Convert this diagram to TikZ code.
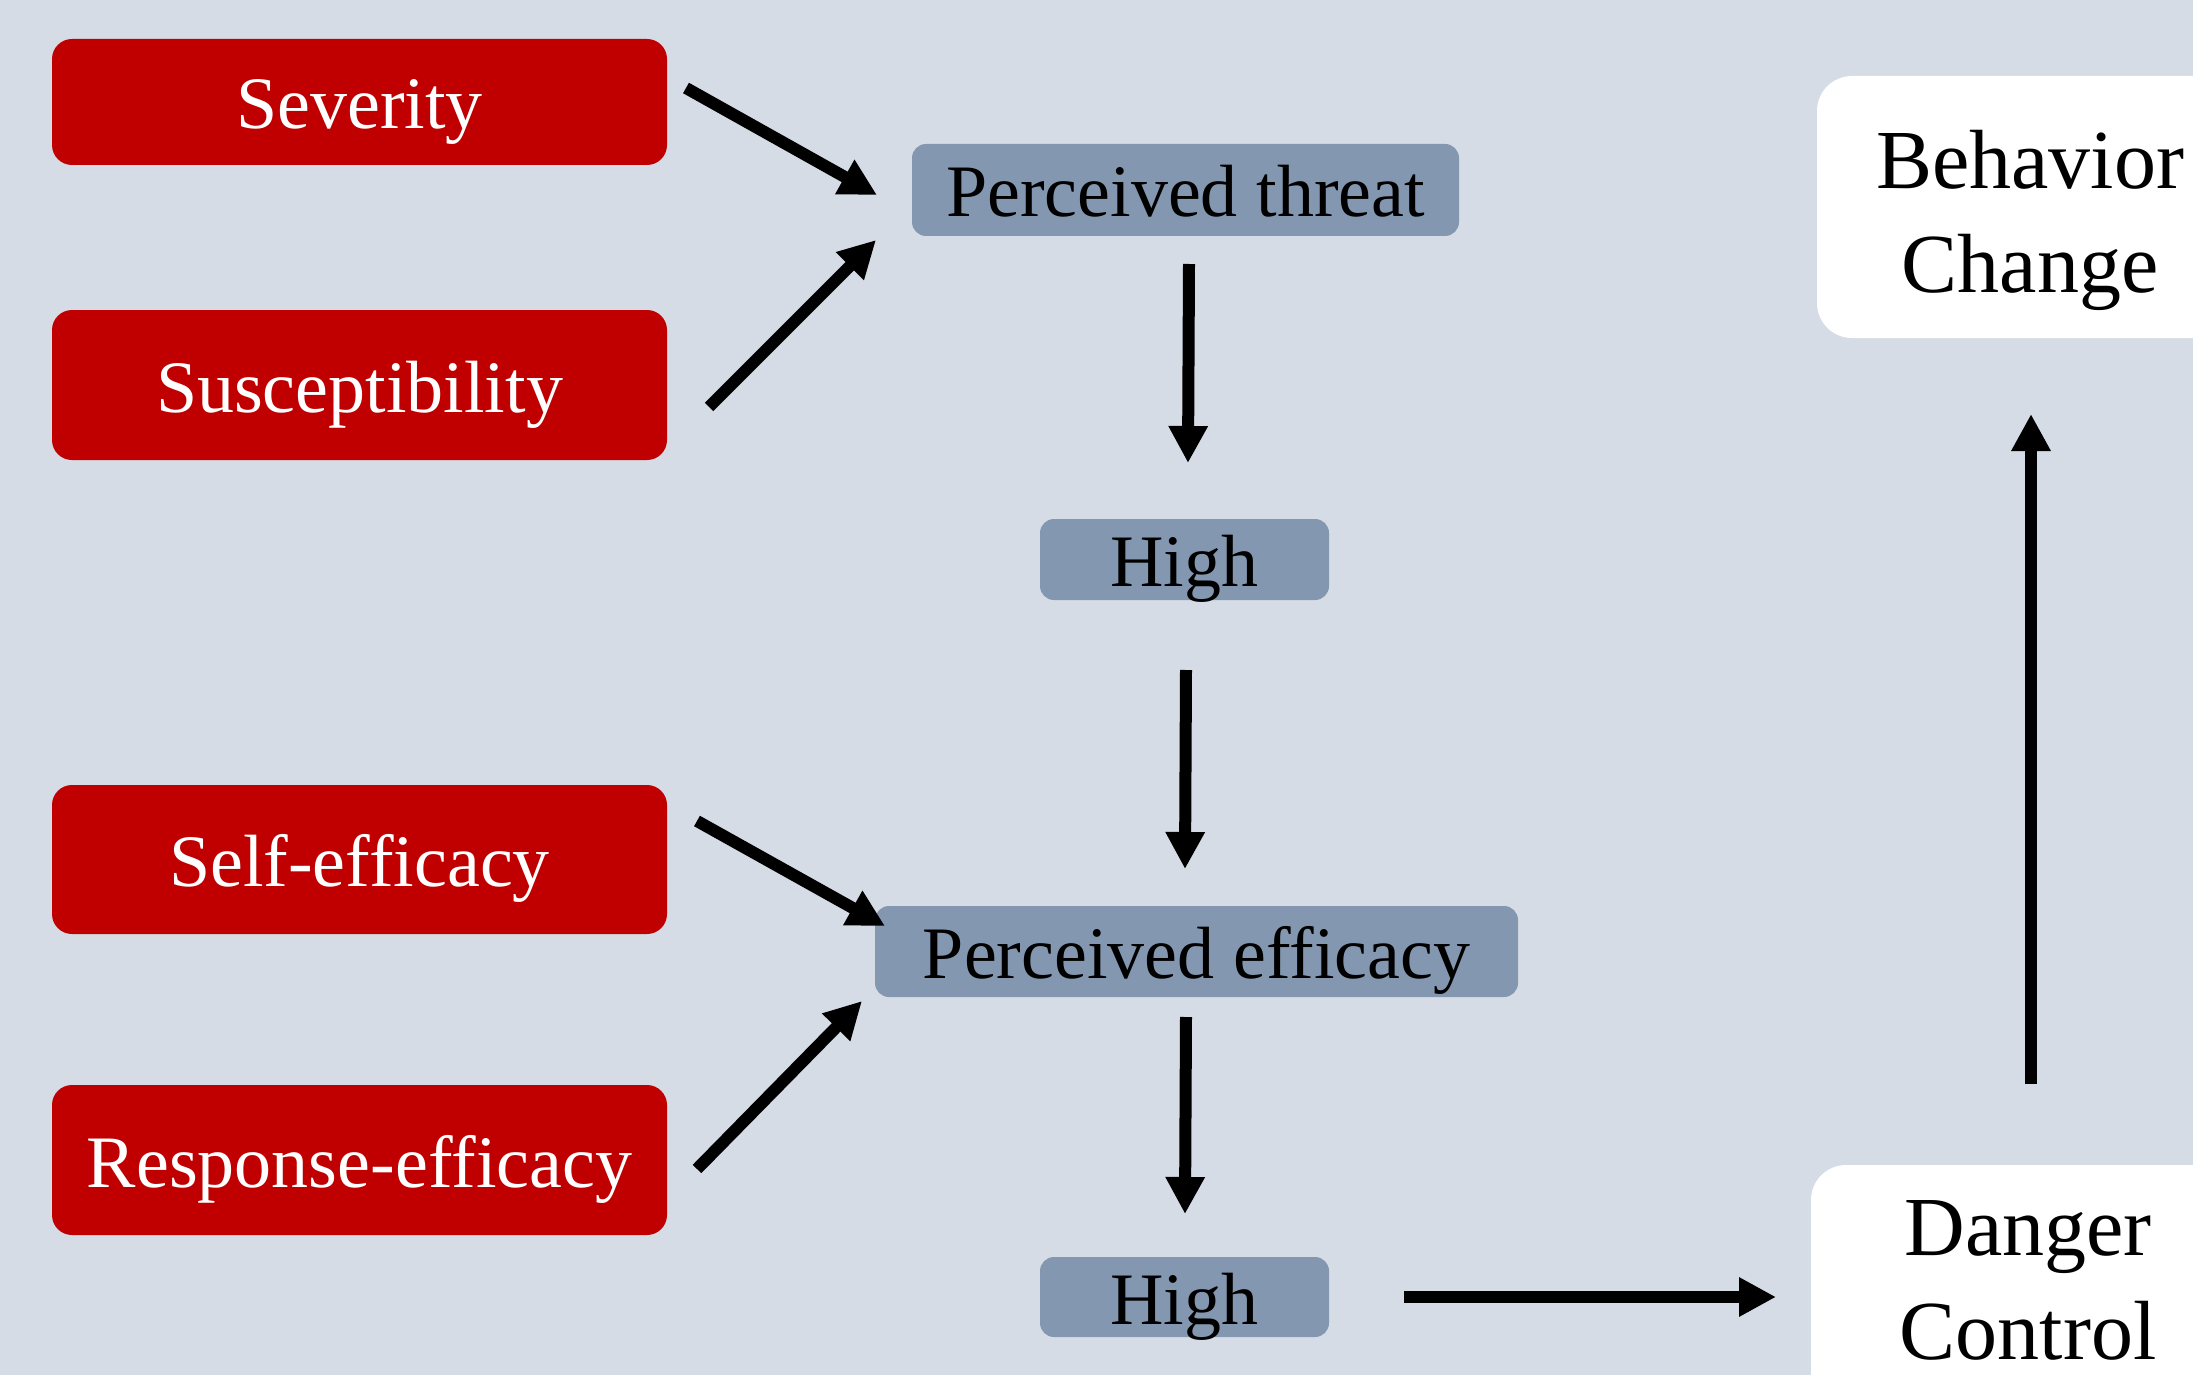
\documentclass[tikz,border=0pt]{standalone}
\usepackage{fontspec}
\setmainfont{Liberation Serif}
\usetikzlibrary{arrows.meta}
\definecolor{bg}{HTML}{D6DCE5}
\definecolor{redf}{HTML}{C00000}
\definecolor{grayf}{HTML}{8497B0}
\tikzset{
  redbox/.style={fill=redf, rounded corners=20pt, minimum width=615pt, inner sep=0pt,
    text=white, font=\fontsize{74}{88}\selectfont, text height=54pt, text depth=0pt},
  graybox/.style={fill=grayf, rounded corners=14pt, inner sep=0pt,
    text=black, font=\fontsize{74}{88}\selectfont, text height=54pt, text depth=0pt},
  whitebox/.style={fill=white, rounded corners=35pt, inner sep=0pt},
  bigtxt/.style={font=\fontsize{84}{104}\selectfont, align=center, inner sep=0pt},
  conn/.style={line width=12pt, -{Triangle[length=37pt,width=37pt]}},
}
\begin{document}
\begin{tikzpicture}[x=1pt,y=-1pt]
\useasboundingbox (0,0) rectangle (2193,1375);
\clip (0,0) rectangle (2193,1375);
\fill[bg] (0,0) rectangle (2193,1375);

% left red boxes
\node[redbox, minimum height=126pt] (sev) at (359.5,102) {Severity};
\node[redbox, minimum height=150pt] (sus) at (359.5,385) {Susceptibility};
\node[redbox, minimum height=149pt] (self) at (359.5,859.5) {Self-efficacy};
\node[redbox, minimum height=150pt] (resp) at (359.5,1160) {Response-efficacy};

% middle gray boxes
\node[graybox, minimum width=547pt, minimum height=92pt] (threat) at (1185.5,190) {Perceived threat};
\node[graybox, minimum width=289pt, minimum height=81pt] (high1) at (1184.5,559.5) {High};
\node[graybox, minimum width=643pt, minimum height=91pt] (eff) at (1196.5,951.5) {Perceived efficacy};
\node[graybox, minimum width=289pt, minimum height=80pt] (high2) at (1184.5,1297) {High};

% right white boxes (run past the picture's edge)
\node[whitebox, minimum width=426pt, minimum height=262pt] (beh) at (2030,207) {};
\node[bigtxt, anchor=base] (behtxt) at (2030,292) {Behavior\\Change};
\node[whitebox, minimum width=438pt, minimum height=285pt] (dan) at (2030,1307.5) {};
\node[bigtxt, anchor=base] (dantxt) at (2028,1359) {Danger\\Control};

% connector end points
\coordinate (a1s) at (686,88);   \coordinate (a1e) at (877,195);
\coordinate (a2s) at (709,407);  \coordinate (a2e) at (876,240);
\coordinate (a3s) at (1189,264); \coordinate (a3e) at (1188,463);
\coordinate (a4s) at (1186,670); \coordinate (a4e) at (1185,869);
\coordinate (a5s) at (697,821);  \coordinate (a5e) at (885,926);
\coordinate (a6s) at (697,1169); \coordinate (a6e) at (862,1001);
\coordinate (a7s) at (1186,1017);\coordinate (a7e) at (1185,1214);
\coordinate (a8s) at (1404,1297);\coordinate (a8e) at (1776,1297);
\coordinate (a9s) at (2031,1084);\coordinate (a9e) at (2031,414);

\draw[conn] (a1s) -- (a1e);
\draw[conn] (a2s) -- (a2e);
\draw[conn] (a3s) -- (a3e);
\draw[conn] (a4s) -- (a4e);
\draw[conn] (a5s) -- (a5e);
\draw[conn] (a6s) -- (a6e);
\draw[conn] (a7s) -- (a7e);
\draw[conn] (a8s) -- (a8e);
\draw[conn] (a9s) -- (a9e);
\end{tikzpicture}
\end{document}
